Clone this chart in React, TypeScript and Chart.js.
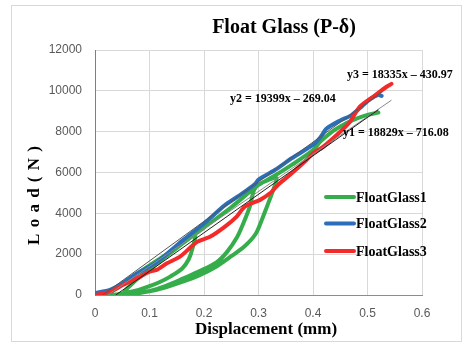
import React, { useEffect, useRef } from "react";
import { Chart, registerables } from "chart.js";

Chart.register(...registerables);

const title = "Float Glass (P-δ)";
const xTitle = "Displacement (mm)";
const yTitle = "L o a d ( N )";
const xTicks = [0, 0.1, 0.2, 0.3, 0.4, 0.5, 0.6];
const yTicks = [0, 2000, 4000, 6000, 8000, 10000, 12000];
const seriesNames = ["FloatGlass1", "FloatGlass2", "FloatGlass3"];
const seriesColors = ["#35AD4B", "#2C6FB8", "#F22A2A"];

// FloatGlass1 (cyclic loading path)
const glass1X = [
  0.02, 0.035, 0.06, 0.1, 0.14, 0.183,
  0.179, 0.172, 0.16, 0.138, 0.12, 0.1, 0.08, 0.06, 0.04, 0.025,
  0.06, 0.1, 0.13, 0.161, 0.19, 0.223, 0.242, 0.26, 0.272, 0.284, 0.292, 0.3,
  0.315, 0.333,
  0.327, 0.318, 0.306, 0.295, 0.275, 0.25, 0.223, 0.19, 0.161, 0.13, 0.1, 0.07, 0.05,
  0.07, 0.1, 0.15, 0.2, 0.25, 0.3, 0.327, 0.361, 0.4, 0.413, 0.431, 0.45, 0.474, 0.5, 0.52,
];
const glass1Y = [
  0, 250, 750, 1450, 2150, 2950,
  2300, 1750, 1300, 900, 650, 430, 250, 120, 30, 0,
  60, 200, 450, 800, 1150, 1600, 2100, 2800, 3500, 4330, 5150, 5400,
  5600, 5750,
  5145, 4500, 3675, 3000, 2400, 1900, 1400, 950, 650, 380, 180, 50, 0,
  600, 1250, 2300, 3300, 4300, 5390, 5800, 6370, 7100, 7500, 7920, 8250, 8575, 8820, 8933,
];

// FloatGlass2
const glass2X = [0, 0.0275, 0.052, 0.08, 0.113, 0.14, 0.162, 0.2, 0.2385, 0.269, 0.294, 0.3, 0.33, 0.361, 0.4, 0.413, 0.425, 0.45, 0.47, 0.49, 0.505, 0.52, 0.526];
const glass2Y = [100, 250, 600, 1100, 1600, 2200, 2700, 3500, 4400, 4950, 5450, 5650, 6120, 6700, 7350, 7700, 8150, 8550, 8800, 9250, 9600, 9800, 9750];

// FloatGlass3
const glass3X = [0, 0.0275, 0.052, 0.083, 0.1, 0.113, 0.132, 0.156, 0.174, 0.187, 0.211, 0.2385, 0.26, 0.275, 0.303, 0.321, 0.339, 0.361, 0.388, 0.4, 0.419, 0.45, 0.468, 0.486, 0.511, 0.535, 0.544];
const glass3Y = [0, 160, 500, 900, 1140, 1230, 1550, 1880, 2300, 2600, 2850, 3350, 3840, 4330, 4660, 4980, 5470, 5960, 6615, 6945, 7270, 8000, 8490, 9230, 9720, 10200, 10340];

// Linear trendlines (end points)
const trend1X = [0.038, 0.52];
const trend1Y = [0, 9075];
const trend2X = [0.014, 0.526];
const trend2Y = [0, 9935];
const trend3X = [0.0235, 0.544];
const trend3Y = [0, 9543];
const equations = ["y1 = 18829x – 716.08", "y2 = 19399x – 269.04", "y3 = 18335x – 430.97"];

const pts = (xs: number[], ys: number[]) => xs.map((x, i) => ({ x, y: ys[i] }));

const SERIF = '"Liberation Serif", "Times New Roman", serif';
const SANS = '"Liberation Sans", Arial, sans-serif';

const decorPlugin = {
  id: "decor",
  beforeDraw(chart: any) {
    const ctx = chart.ctx;
    ctx.save();
    ctx.fillStyle = "#ffffff";
    ctx.fillRect(0, 0, chart.width, chart.height);
    ctx.strokeStyle = "#D9D9D9";
    ctx.lineWidth = 1;
    ctx.strokeRect(11.5, 5.5, 450, 336);
    ctx.restore();
  },
  afterDraw(chart: any) {
    const ctx = chart.ctx;
    ctx.save();
    ctx.fillStyle = "#000000";
    ctx.textAlign = "center";
    ctx.textBaseline = "middle";
    ctx.font = `bold 20px ${SERIF}`;
    ctx.fillText(title, 284, 28);
    ctx.font = `bold 17px ${SERIF}`;
    ctx.fillText(xTitle, 266, 330);
    ctx.save();
    ctx.translate(35, 195);
    ctx.rotate(-Math.PI / 2);
    ctx.font = `bold 17px ${SERIF}`;
    try {
      (ctx as any).letterSpacing = "1px";
    } catch (e) {}
    ctx.fillText(yTitle, 0, 0);
    ctx.restore();

    // equations
    ctx.font = `bold 12px ${SERIF}`;
    ctx.textAlign = "left";
    ctx.fillText(equations[2], 347, 75);
    ctx.fillText(equations[1], 230, 99);
    ctx.fillText(equations[0], 343, 133);

    // legend
    const ly = [197, 223.5, 251];
    ctx.font = `bold 14px ${SERIF}`;
    seriesNames.forEach((name, i) => {
      ctx.strokeStyle = seriesColors[i];
      ctx.lineWidth = 4;
      ctx.lineCap = "round";
      ctx.beginPath();
      ctx.moveTo(326, ly[i]);
      ctx.lineTo(354, ly[i]);
      ctx.stroke();
      ctx.fillStyle = "#000000";
      ctx.fillText(name, 356, ly[i] + 1);
    });
    ctx.restore();
  },
};

export default function App() {
  const ref = useRef<HTMLCanvasElement | null>(null);
  useEffect(() => {
    if (!ref.current) return;
    const lineStyle = (color: string, tension: number) => ({
      borderColor: color,
      backgroundColor: color,
      borderWidth: 4,
      pointRadius: 0,
      tension,
      borderCapStyle: "round" as const,
      borderJoinStyle: "round" as const,
      fill: false,
    });
    const trendStyle = (color: string) => ({
      borderColor: color,
      backgroundColor: color,
      borderWidth: 1,
      pointRadius: 0,
      tension: 0,
      fill: false,
    });
    const chart = new Chart(ref.current, {
      type: "scatter",
      data: {
        datasets: [
          { label: "t1", data: pts(trend1X, trend1Y), showLine: true, ...trendStyle("#222222") },
          { label: "t2", data: pts(trend2X, trend2Y), showLine: true, ...trendStyle("#555555") },
          { label: "t3", data: pts(trend3X, trend3Y), showLine: true, ...trendStyle("#8a8a8a") },
          { label: seriesNames[2], data: pts(glass3X, glass3Y), showLine: true, ...lineStyle(seriesColors[2], 0.25) },
          { label: seriesNames[1], data: pts(glass2X, glass2Y), showLine: true, ...lineStyle(seriesColors[1], 0.25) },
          { label: seriesNames[0], data: pts(glass1X, glass1Y), showLine: true, ...lineStyle(seriesColors[0], 0.3) },
        ],
      },
      options: {
        responsive: false,
        animation: false,
        devicePixelRatio: 1,
        layout: { padding: { top: 50, right: 42, left: 0, bottom: 0 } },
        plugins: {
          legend: { display: false },
          title: { display: false },
          tooltip: { enabled: false },
        },
        scales: {
          x: {
            type: "linear",
            min: 0,
            max: 0.6,
            afterBuildTicks: (scale: any) => {
              scale.ticks = xTicks.map((v) => ({ value: v }));
            },
            afterFit: (scale: any) => {
              scale.height = 49;
            },
            grid: { color: "#D9D9D9", lineWidth: 1, drawTicks: false },
            border: { color: "#8C8C8C", width: 1 },
            ticks: {
              padding: 11,
              color: "#595959",
              font: { family: SANS, size: 12 },
              maxRotation: 0,
              callback: (v: any) => String(Math.round(Number(v) * 10) / 10),
            },
          },
          y: {
            type: "linear",
            min: 0,
            max: 12000,
            afterBuildTicks: (scale: any) => {
              scale.ticks = yTicks.map((v) => ({ value: v }));
            },
            afterFit: (scale: any) => {
              scale.width = 95;
            },
            grid: { color: "#D9D9D9", lineWidth: 1, drawTicks: false },
            border: { color: "#7F7F7F", width: 1 },
            ticks: {
              padding: 13,
              color: "#595959",
              font: { family: SANS, size: 12 },
              callback: (v: any) => String(v),
            },
          },
        },
      },
      plugins: [decorPlugin],
    });
    return () => chart.destroy();
  }, []);
  return (
    <div style={{ position: "absolute", left: 0, top: 0, width: 464, height: 344 }}>
      <canvas ref={ref} width={464} height={344} style={{ width: 464, height: 344, display: "block" }} />
    </div>
  );
}
